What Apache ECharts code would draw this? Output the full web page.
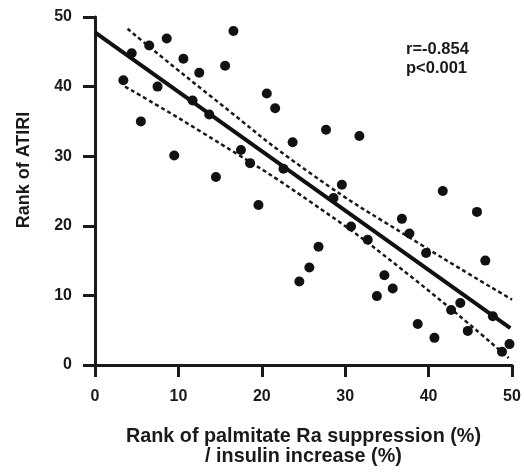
<!DOCTYPE html>
<html>
<head>
<meta charset="utf-8">
<script src="https://cdn.jsdelivr.net/npm/echarts@6/dist/echarts.min.js"></script>
<style>html,body{margin:0;padding:0;background:#fff;}#c{width:524px;height:472px;}</style>
</head>
<body>
<div id="c"></div>
<script>
// Scatter data
const xVals = [3.4,4.4,5.5,6.5,7.5,8.6,9.5,10.6,11.7,12.5,13.7,14.5,15.6,16.6,17.5,18.6,19.6,20.6,21.6,22.6,23.7,24.5,25.7,26.8,27.7,28.6,29.6,30.7,31.7,32.7,33.8,34.7,35.7,36.8,37.7,38.7,39.7,40.7,41.7,42.7,43.8,44.7,45.8,46.8,47.7,48.8,49.7];
const yVals = [40.9,44.8,35,45.9,40,46.9,30.1,44,38,42,36,27,43,48,30.9,29,23,39,36.9,28.2,32,12,14,17,33.8,24,25.9,19.9,32.9,18,9.9,12.9,11,21,18.9,5.9,16.1,3.9,25,7.9,8.9,4.9,22,15,7,1.9,3];
// Regression line end points
const fitX = [0, 49.8];
const fitY = [47.8, 5.3];
// Confidence band points
const upperX = [3.9, 14, 26, 38, 50];
const upperY = [48.3, 38.5, 27.4, 18.1, 9.4];
const lowerX = [3.6, 13, 26, 38, 49.6];
const lowerY = [40.0, 33.3, 23.3, 12.6, 1.0];
const xTicks = [0, 10, 20, 30, 40, 50];
const yTicks = [0, 10, 20, 30, 40, 50];
const statText = ['r=-0.854', 'p<0.001'];

const zip = (a, b) => a.map((v, i) => [v, b[i]]);
const FONT = '"Liberation Sans", Arial, sans-serif';

const chart = echarts.init(document.getElementById('c'), null, {renderer: 'canvas'});
chart.setOption({
  animation: false,
  backgroundColor: '#fff',
  grid: {left: 95, top: 17, width: 417, height: 349, containLabel: false},
  xAxis: {
    type: 'value', min: xTicks[0], max: xTicks[xTicks.length - 1], interval: 10,
    name: 'Rank of palmitate Ra suppression (%)\n/ insulin increase (%)',
    nameLocation: 'middle', nameGap: 62,
    nameTextStyle: {fontFamily: FONT, fontWeight: 'bold', fontSize: 19.8, color: '#1a1a1a', lineHeight: 20, verticalAlign: 'top'},
    axisLine: {show: true, onZero: false, lineStyle: {color: '#1a1a1a', width: 3}},
    axisTick: {show: true, length: 12, lineStyle: {color: '#1a1a1a', width: 3}},
    axisLabel: {margin: 24, fontFamily: FONT, fontWeight: 'bold', fontSize: 16, color: '#1a1a1a'},
    splitLine: {show: false}
  },
  yAxis: {
    type: 'value', min: yTicks[0], max: yTicks[yTicks.length - 1], interval: 10,
    name: 'Rank of ATIRI', nameLocation: 'middle', nameGap: 62, nameRotate: 90,
    nameTextStyle: {fontFamily: FONT, fontWeight: 'bold', fontSize: 18, color: '#1a1a1a', padding: [0, 0, 0, 42]},
    axisLine: {show: true, onZero: false, lineStyle: {color: '#1a1a1a', width: 3}},
    axisTick: {show: true, length: 12, lineStyle: {color: '#1a1a1a', width: 3}},
    axisLabel: {margin: 23, fontFamily: FONT, fontWeight: 'bold', fontSize: 16, color: '#1a1a1a'},
    splitLine: {show: false}
  },
  series: [
    {type: 'line', data: zip(upperX, upperY), smooth: true, symbol: 'none', z: 2,
     lineStyle: {color: '#1a1a1a', width: 2.5, type: [4, 3]}},
    {type: 'line', data: zip(lowerX, lowerY), smooth: true, symbol: 'none', z: 2,
     lineStyle: {color: '#1a1a1a', width: 2.5, type: [4, 3]}},
    {type: 'line', data: zip(fitX, fitY), symbol: 'none', z: 3,
     lineStyle: {color: '#111', width: 4}},
    {type: 'scatter', data: zip(xVals, yVals), symbol: 'circle', symbolSize: 10, z: 4,
     itemStyle: {color: '#111', opacity: 1}}
  ],
  graphic: [
    {type: 'text', left: 406, top: 40, style: {text: statText.join('\n'), fontFamily: FONT, fontWeight: 'bold', fontSize: 16.5, lineHeight: 19, fill: '#1a1a1a'}}
  ]
});
</script>
</body>
</html>
